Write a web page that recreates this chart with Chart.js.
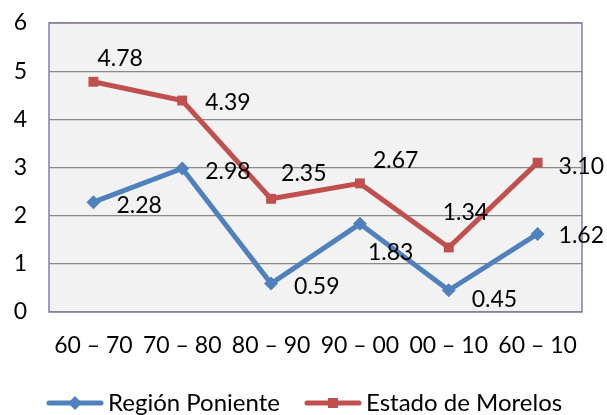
<!DOCTYPE html>
<html>
<head>
<meta charset="utf-8">
<script src="https://cdn.jsdelivr.net/npm/chart.js@4/dist/chart.umd.min.js"></script>
<style>
  html, body { margin: 0; padding: 0; background: #ffffff; }
  #wrap { width: 607px; height: 415px; position: relative; }
</style>
</head>
<body>
<div id="wrap"><canvas id="c" width="607" height="415"></canvas></div>
<script>
const categories = ["60 \u2013 70", "70 \u2013 80", "80 \u2013 90", "90 \u2013 00", "00 \u2013 10", "60 \u2013 10"];
const regionPoniente = [2.28, 2.98, 0.59, 1.83, 0.45, 1.62];
const estadoMorelos = [4.78, 4.39, 2.35, 2.67, 1.34, 3.10];
const seriesNames = ["Regi\u00f3n Poniente", "Estado de Morelos"];
const yTicks = [0, 1, 2, 3, 4, 5, 6];

const FONT = "Lato, 'Liberation Sans', sans-serif";
const FS = 23;
const BLUE = "#4F81BD";
const RED = "#C0504D";

// label placement relative to each point: [dx to text left, dy to text middle]
const labelPlacement = [
  [[23, 3], [23, 3], [23, 3], [8, 29], [23, 9], [21, 2]],
  [[4, -23], [23, 2], [10, -25], [13, -23], [-6, -35], [21, 4]]
];
const markerStyles = ['diamond', 'square'];
// legend item left edges (line start)
const legendItemX = [47, 305];

function drawMarker(ctx, style, x, y) {
  ctx.beginPath();
  if (style === 'diamond') {
    ctx.moveTo(x, y - 7); ctx.lineTo(x + 7, y); ctx.lineTo(x, y + 7); ctx.lineTo(x - 7, y); ctx.closePath();
  } else {
    ctx.rect(x - 5, y - 5, 10, 10);
  }
  ctx.fill();
}

const plotDecor = {
  id: 'plotDecor',
  beforeDraw(chart) {
    const a = chart.chartArea, ctx = chart.ctx;
    ctx.save();
    ctx.fillStyle = '#F2F2F2';
    ctx.fillRect(a.left, a.top, a.right - a.left, a.bottom - a.top);
    ctx.restore();
  },
  beforeDatasetsDraw(chart) {
    const a = chart.chartArea, ctx = chart.ctx;
    ctx.save();
    ctx.strokeStyle = '#8B7BA6';
    ctx.lineWidth = 1.5;
    ctx.strokeRect(a.left, a.top, a.right - a.left, a.bottom - a.top);
    ctx.restore();
  },
  afterDatasetsDraw(chart) {
    const ctx = chart.ctx;
    ctx.save();
    ctx.font = FS + 'px ' + FONT;
    ctx.fillStyle = '#000';
    ctx.textAlign = 'left';
    ctx.textBaseline = 'middle';
    chart.data.datasets.forEach((ds, di) => {
      const meta = chart.getDatasetMeta(di);
      meta.data.forEach((pt, i) => {
        const off = labelPlacement[di][i];
        ctx.fillText(ds.data[i].toFixed(2), pt.x + off[0], pt.y + off[1]);
      });
    });
    ctx.restore();
  },
  afterDraw(chart) {
    // legend: line + marker, then text
    const ctx = chart.ctx;
    ctx.save();
    ctx.font = (FS + 1) + 'px ' + FONT;
    ctx.textBaseline = 'middle';
    ctx.textAlign = 'left';
    const lineLen = 56, gapText = 5;
    const y = 403;
    chart.data.datasets.forEach((d, i) => {
      const x = legendItemX[i];
      ctx.strokeStyle = d.borderColor;
      ctx.fillStyle = d.borderColor;
      ctx.lineWidth = 5;
      ctx.lineCap = 'round';
      ctx.beginPath(); ctx.moveTo(x + 2, y); ctx.lineTo(x + lineLen - 2, y); ctx.stroke();
      drawMarker(ctx, markerStyles[i], x + lineLen / 2, y);
      ctx.fillStyle = '#000';
      ctx.fillText(d.label, x + lineLen + gapText, y);
    });
    ctx.restore();
  }
};

new Chart(document.getElementById('c'), {
  type: 'line',
  data: {
    labels: categories,
    datasets: [
      {
        label: seriesNames[0],
        data: regionPoniente,
        borderColor: BLUE,
        backgroundColor: BLUE,
        borderWidth: 5,
        pointStyle: 'rectRot',
        pointRadius: 7,
        pointBorderWidth: 0,
        tension: 0
      },
      {
        label: seriesNames[1],
        data: estadoMorelos,
        borderColor: RED,
        backgroundColor: RED,
        borderWidth: 5,
        pointStyle: 'rect',
        pointRadius: 7,
        pointBorderWidth: 0,
        tension: 0
      }
    ]
  },
  options: {
    responsive: false,
    animation: false,
    devicePixelRatio: 1,
    layout: { padding: { left: 12, right: 25, top: 23, bottom: 0 } },
    scales: {
      x: {
        offset: true,
        grid: { display: false, drawTicks: false },
        border: { display: false },
        ticks: {
          color: '#000',
          font: { family: FONT, size: FS },
          padding: 20,
          maxRotation: 0,
          autoSkip: false
        },
        afterFit(scale) {
          scale.paddingLeft = 0; scale.paddingRight = 0;
          scale.height = 103;
        }
      },
      y: {
        min: 0,
        max: 6,
        afterBuildTicks(scale) { scale.ticks = yTicks.map(v => ({ value: v })); },
        grid: { color: '#898989', lineWidth: 1.2, drawTicks: false },
        border: { display: false },
        ticks: {
          color: '#000',
          font: { family: FONT, size: FS },
          padding: 22,
          callback: v => String(v)
        },
        afterFit(scale) {
          scale.paddingTop = 0; scale.paddingBottom = 0;
          scale.width = 37;
        }
      }
    },
    plugins: {
      tooltip: { enabled: false },
      legend: { display: false }
    }
  },
  plugins: [plotDecor]
});
</script>
</body>
</html>
